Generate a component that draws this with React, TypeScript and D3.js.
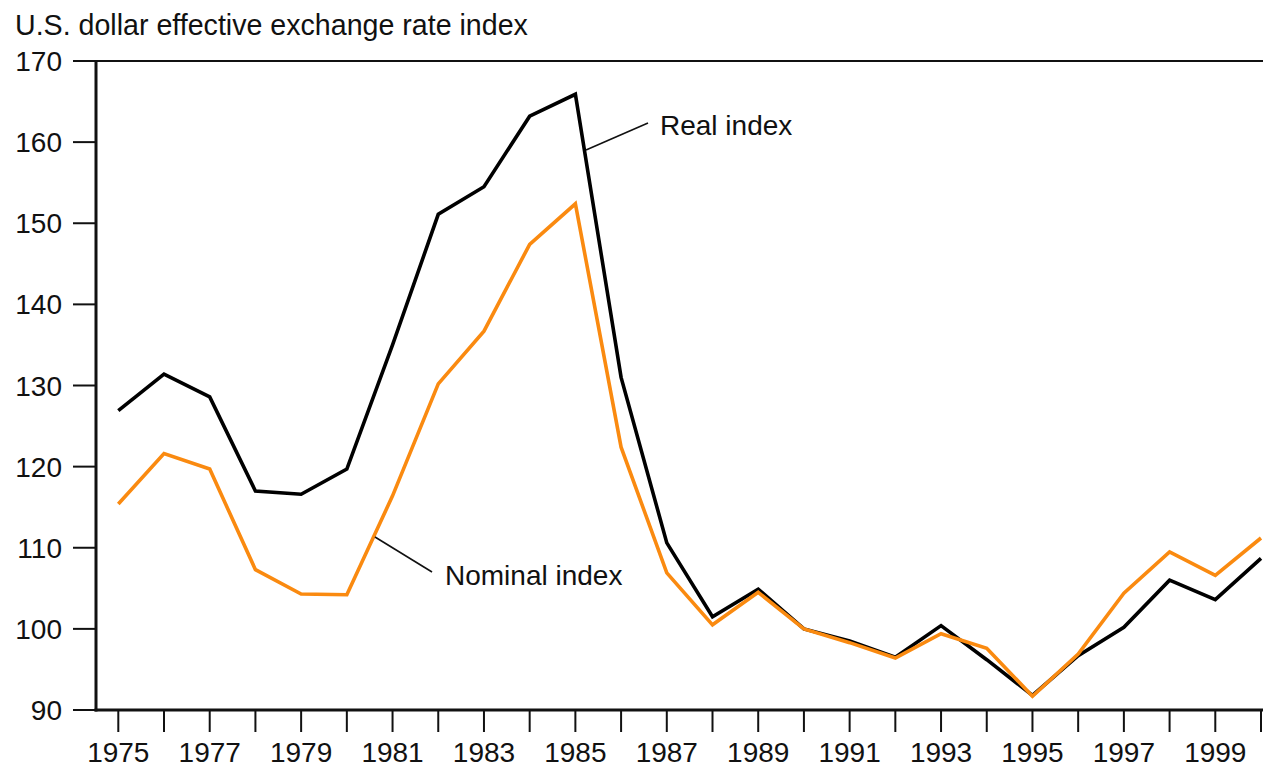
import { useRef, useEffect } from "react";
import * as d3 from "d3";

const years = d3.range(1975, 2001);
const realIndex = [
  126.9, 131.4, 128.6, 117.0, 116.6, 119.7, 135.0, 151.1, 154.5, 163.2, 165.9,
  131.0, 110.6, 101.5, 104.9, 100.0, 98.5, 96.5, 100.4, 96.2, 91.8, 96.7,
  100.2, 106.0, 103.6, 108.7,
];
const nominalIndex = [
  115.4, 121.6, 119.7, 107.3, 104.3, 104.2, 116.4, 130.2, 136.7, 147.4, 152.4,
  122.4, 106.9, 100.5, 104.5, 100.0, 98.3, 96.4, 99.4, 97.6, 91.7, 96.9,
  104.4, 109.5, 106.6, 111.2,
];
const yTicks = [90, 100, 110, 120, 130, 140, 150, 160, 170];
const xLabels = d3.range(1975, 2000, 2);

const W = 1263;
const H = 767;
const FONT = "'Liberation Sans', Arial, Helvetica, sans-serif";

export default function App() {
  const svgRef = useRef<SVGSVGElement>(null);

  useEffect(() => {
    const svg = d3.select(svgRef.current);
    svg.selectAll("*").remove();

    const x = d3.scaleLinear().domain([1975, 2000]).range([118.3, 1261]);
    const y = d3.scaleLinear().domain([90, 170]).range([710, 61]);
    const axisX = 96;

    svg.attr("font-family", FONT).attr("font-size", 28);

    // title
    svg
      .append("text")
      .attr("x", 15)
      .attr("y", 35)
      .attr("font-size", 28.6)
      .attr("fill", "#111")
      .text("U.S. dollar effective exchange rate index");

    // y ticks + labels
    const yg = svg.append("g");
    yg.selectAll("line")
      .data(yTicks)
      .join("line")
      .attr("x1", 73)
      .attr("x2", axisX)
      .attr("y1", (d) => y(d))
      .attr("y2", (d) => y(d))
      .attr("stroke", "#111")
      .attr("stroke-width", 2);
    yg.selectAll("text")
      .data(yTicks)
      .join("text")
      .attr("x", 62)
      .attr("y", (d) => y(d))
      .attr("dy", "0.36em")
      .attr("text-anchor", "end")
      .attr("fill", "#111")
      .text((d) => d);

    // x ticks + labels
    const xg = svg.append("g");
    xg.selectAll("line")
      .data(years)
      .join("line")
      .attr("x1", (d) => x(d))
      .attr("x2", (d) => x(d))
      .attr("y1", 710)
      .attr("y2", 732)
      .attr("stroke", "#111")
      .attr("stroke-width", 2);
    xg.selectAll("text")
      .data(xLabels)
      .join("text")
      .attr("x", (d) => x(d))
      .attr("y", 762)
      .attr("text-anchor", "middle")
      .attr("fill", "#111")
      .text((d) => d);

    // frame: top rule, left and bottom axes
    svg
      .append("line")
      .attr("x1", 73)
      .attr("x2", W)
      .attr("y1", 61)
      .attr("y2", 61)
      .attr("stroke", "#111")
      .attr("stroke-width", 2);
    svg
      .append("line")
      .attr("x1", axisX)
      .attr("x2", axisX)
      .attr("y1", 61)
      .attr("y2", 711.5)
      .attr("stroke", "#111")
      .attr("stroke-width", 3);
    svg
      .append("line")
      .attr("x1", axisX - 1.5)
      .attr("x2", W)
      .attr("y1", 710)
      .attr("y2", 710)
      .attr("stroke", "#111")
      .attr("stroke-width", 3);

    // series
    const line = d3
      .line<number>()
      .x((_, i) => x(years[i]))
      .y((d) => y(d));

    svg
      .append("path")
      .attr("d", line(realIndex))
      .attr("fill", "none")
      .attr("stroke", "#000")
      .attr("stroke-width", 3.6)
      .attr("stroke-linejoin", "miter");
    svg
      .append("path")
      .attr("d", line(nominalIndex))
      .attr("fill", "none")
      .attr("stroke", "#fa8a10")
      .attr("stroke-width", 3.6)
      .attr("stroke-linejoin", "miter");

    // annotations
    svg
      .append("line")
      .attr("x1", 586)
      .attr("y1", 150)
      .attr("x2", 648)
      .attr("y2", 123)
      .attr("stroke", "#111")
      .attr("stroke-width", 1.6);
    svg
      .append("text")
      .attr("x", 660)
      .attr("y", 135)
      .attr("fill", "#111")
      .text("Real index");

    svg
      .append("line")
      .attr("x1", 375)
      .attr("y1", 537)
      .attr("x2", 432)
      .attr("y2", 572)
      .attr("stroke", "#111")
      .attr("stroke-width", 1.6);
    svg
      .append("text")
      .attr("x", 445)
      .attr("y", 585)
      .attr("fill", "#111")
      .text("Nominal index");
  }, []);

  return (
    <svg
      ref={svgRef}
      width={W}
      height={H}
      style={{ position: "absolute", left: 0, top: 0, background: "#fff" }}
    ></svg>
  );
}
